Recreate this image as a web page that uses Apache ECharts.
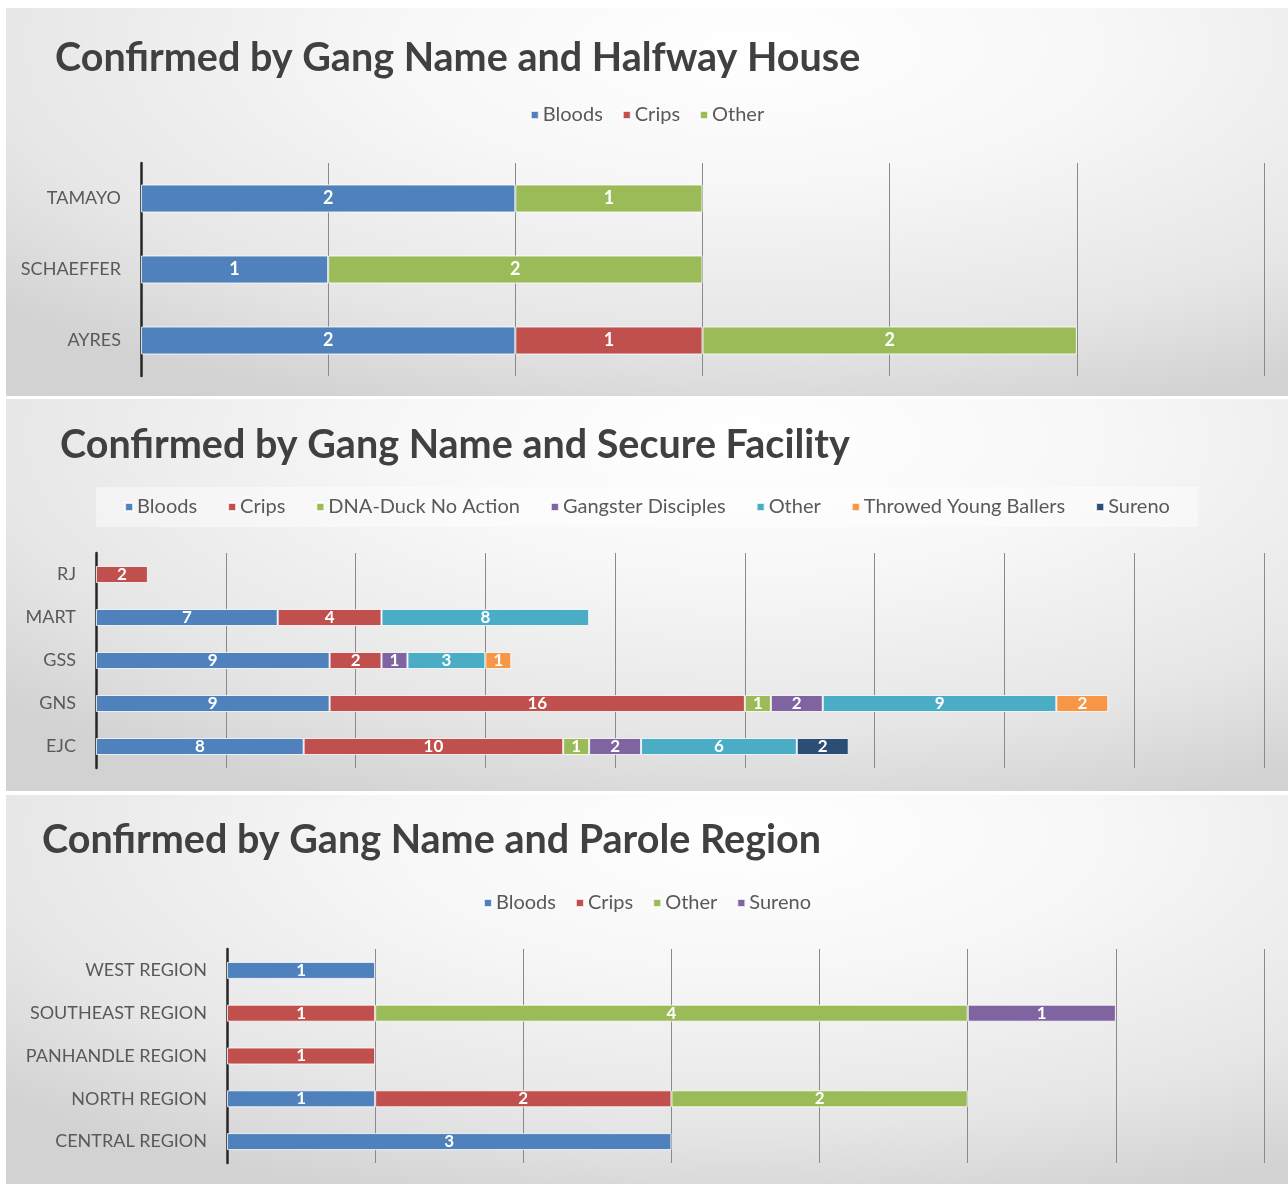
<!DOCTYPE html>
<html>
<head>
<meta charset="utf-8">
<script src="https://cdn.jsdelivr.net/npm/echarts@6/dist/echarts.min.js"></script>
<style>
  body { margin: 0; background: #fff; width: 1288px; height: 1184px; position: relative; overflow: hidden; }
  .panel {
    position: absolute; left: 6px; width: 1282px;
    background: radial-gradient(ellipse 80% 100% at 58% 10%, #ffffff 0%, #f7f7f7 35%, #e6e6e6 75%, #d2d2d2 100%);
  }
  #c1 { top: 8px; height: 388px; }
  #c2 { top: 399px; height: 392px; }
  #c3 { top: 795px; height: 389px; }
</style>
</head>
<body>
<div id="c1" class="panel"></div>
<div id="c2" class="panel"></div>
<div id="c3" class="panel"></div>
<script>
// halfway house
var houses = ['TAMAYO', 'SCHAEFFER', 'AYRES'];
var houseBloods = [2, 1, 2];
var houseCrips = [0, 0, 1];
var houseOther = [1, 2, 2];

// secure facility
var facilities = ['RJ', 'MART', 'GSS', 'GNS', 'EJC'];
var facBloods = [0, 7, 9, 9, 8];
var facCrips = [2, 4, 2, 16, 10];
var facDNA = [0, 0, 0, 1, 1];
var facGD = [0, 0, 1, 2, 2];
var facOther = [0, 8, 3, 9, 6];
var facTYB = [0, 0, 1, 2, 0];
var facSureno = [0, 0, 0, 0, 2];

// parole region
var regions = ['WEST REGION', 'SOUTHEAST REGION', 'PANHANDLE REGION', 'NORTH REGION', 'CENTRAL REGION'];
var regBloods = [1, 0, 0, 1, 3];
var regCrips = [0, 1, 1, 2, 0];
var regOther = [0, 4, 0, 2, 0];
var regSureno = [0, 1, 0, 0, 0];

var BLUE = '#4F81BD', RED = '#C0504D', GREEN = '#9BBB59', PURPLE = '#8064A2',
    AQUA = '#4BACC6', ORANGE = '#F79646', NAVY = '#2C4D75';
var FONT = 'Lato, "Open Sans", sans-serif';

function bar(name, data, color, width, fs) {
    return {
        name: name,
        type: 'bar',
        stack: 'total',
        barWidth: width,
        data: data.map(function (v) { return v === 0 ? null : v; }),
        itemStyle: { color: color, borderColor: 'rgba(255,255,255,0.8)', borderWidth: 1 },
        label: {
            show: true,
            position: 'inside',
            color: '#fff',
            fontWeight: 'bold',
            fontFamily: FONT,
            fontSize: fs
        }
    };
}

function makeOption(cfg) {
    return {
        animation: false,
        textStyle: { fontFamily: FONT },
        title: {
            text: cfg.title,
            left: cfg.titleLeft,
            top: cfg.titleTop,
            textStyle: { color: '#404040', fontSize: 39.5, fontWeight: 'bold', fontFamily: FONT }
        },
        legend: {
            top: cfg.legendTop,
            left: 'center',
            itemWidth: 8,
            itemHeight: 8,
            itemGap: cfg.legendGap,
            icon: 'rect',
            backgroundColor: cfg.legendBg || 'transparent',
            padding: cfg.legendPad || 5,
            textStyle: { color: '#595959', fontSize: 20, fontFamily: FONT, padding: [0, 0, 0, -1] }
        },
        grid: { left: cfg.gridLeft, right: 24, top: cfg.gridTop, height: cfg.gridHeight, containLabel: false },
        xAxis: {
            type: 'value',
            min: 0,
            max: cfg.max,
            interval: cfg.interval,
            axisLabel: { show: false },
            axisLine: { show: false },
            axisTick: { show: false },
            splitLine: { show: true, lineStyle: { color: '#8a8a8a', width: 1 } }
        },
        yAxis: {
            type: 'category',
            inverse: true,
            data: cfg.cats,
            axisLine: { show: true, lineStyle: { color: '#262626', width: 2.5 } },
            axisTick: { show: false },
            axisLabel: { color: '#595959', fontSize: 18, fontFamily: FONT, margin: 20 }
        },
        series: cfg.series
    };
}

echarts.init(document.getElementById('c1')).setOption(makeOption({
    title: 'Confirmed by Gang Name and Halfway House',
    titleLeft: 44, titleTop: 25,
    legendTop: 92, legendGap: 19,
    gridLeft: 135, gridTop: 155, gridHeight: 213,
    max: 6, interval: 1,
    cats: houses,
    series: [
        bar('Bloods', houseBloods, BLUE, 28, 18),
        bar('Crips', houseCrips, RED, 28, 18),
        bar('Other', houseOther, GREEN, 28, 18)
    ]
}));

echarts.init(document.getElementById('c2')).setOption(makeOption({
    title: 'Confirmed by Gang Name and Secure Facility',
    titleLeft: 49, titleTop: 21,
    legendTop: 88, legendGap: 30,
    legendBg: 'rgba(255,255,255,0.45)', legendPad: [10, 28, 10, 28],
    gridLeft: 90, gridTop: 154, gridHeight: 215,
    max: 45, interval: 5,
    cats: facilities,
    series: [
        bar('Bloods', facBloods, BLUE, 17, 17),
        bar('Crips', facCrips, RED, 17, 17),
        bar('DNA-Duck No Action', facDNA, GREEN, 17, 17),
        bar('Gangster Disciples', facGD, PURPLE, 17, 17),
        bar('Other', facOther, AQUA, 17, 17),
        bar('Throwed Young Ballers', facTYB, ORANGE, 17, 17),
        bar('Sureno', facSureno, NAVY, 17, 17)
    ]
}));

echarts.init(document.getElementById('c3')).setOption(makeOption({
    title: 'Confirmed by Gang Name and Parole Region',
    titleLeft: 31, titleTop: 20,
    legendTop: 93, legendGap: 19,
    gridLeft: 221, gridTop: 154, gridHeight: 214,
    max: 7, interval: 1,
    cats: regions,
    series: [
        bar('Bloods', regBloods, BLUE, 17, 17),
        bar('Crips', regCrips, RED, 17, 17),
        bar('Other', regOther, GREEN, 17, 17),
        bar('Sureno', regSureno, PURPLE, 17, 17)
    ]
}));
</script>
</body>
</html>
